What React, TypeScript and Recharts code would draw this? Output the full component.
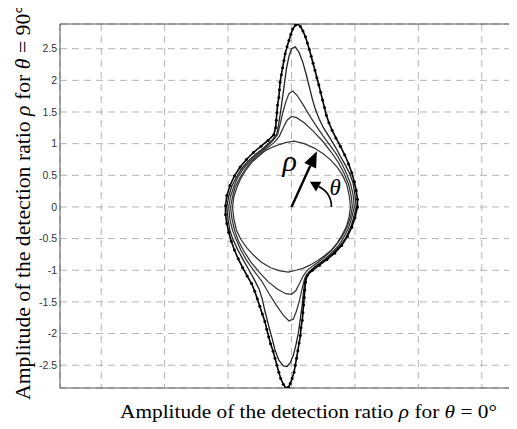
import React from 'react'
import {
  CartesianGrid,
  ReferenceLine,
  Scatter,
  ScatterChart,
  XAxis,
  YAxis,
} from 'recharts'

type Pt = [number, number]

const xTicks = [-3, -2, -1, 0, 1, 2, 3]
const yTicks = [-2.5, -2, -1.5, -1, -0.5, 0, 0.5, 1, 1.5, 2, 2.5]
const xRange: [number, number] = [-3.65, 3.65]
const yRange: [number, number] = [-2.86, 2.89]

// outermost curve (line + markers), peak 2.89
const curveA: Pt[] = [
  [1.04, 0], [1.04, 0.12], [1.02, 0.26], [0.99, 0.4], [0.95, 0.54], [0.9, 0.68],
  [0.84, 0.82], [0.77, 0.96], [0.7, 1.09], [0.64, 1.21], [0.59, 1.33], [0.55, 1.45],
  [0.52, 1.57], [0.49, 1.69], [0.46, 1.81], [0.43, 1.93], [0.4, 2.04], [0.37, 2.16],
  [0.34, 2.27], [0.31, 2.38], [0.28, 2.49], [0.25, 2.59], [0.22, 2.69], [0.18, 2.78],
  [0.14, 2.85], [0.1, 2.89], [0.06, 2.87], [0.02, 2.81], [-0.01, 2.73], [-0.04, 2.63],
  [-0.07, 2.53], [-0.1, 2.42], [-0.12, 2.31], [-0.14, 2.2], [-0.16, 2.09], [-0.18, 1.97],
  [-0.19, 1.85], [-0.2, 1.73], [-0.22, 1.61], [-0.23, 1.49], [-0.24, 1.37], [-0.25, 1.25],
  [-0.28, 1.14], [-0.37, 1.05], [-0.48, 0.96], [-0.6, 0.86], [-0.71, 0.75], [-0.81, 0.63],
  [-0.9, 0.49], [-0.97, 0.34], [-1.02, 0.18], [-1.04, 0.02],
  [-1.04, -0.12], [-1.02, -0.26], [-0.99, -0.4], [-0.95, -0.54], [-0.9, -0.68],
  [-0.84, -0.82], [-0.77, -0.96], [-0.7, -1.09], [-0.63, -1.21], [-0.58, -1.33],
  [-0.54, -1.45], [-0.5, -1.57], [-0.46, -1.69], [-0.42, -1.81], [-0.39, -1.93],
  [-0.36, -2.05], [-0.33, -2.16], [-0.29, -2.28], [-0.26, -2.39], [-0.23, -2.5],
  [-0.2, -2.61], [-0.17, -2.71], [-0.13, -2.8], [-0.09, -2.86], [-0.05, -2.85],
  [-0.02, -2.79], [0.01, -2.71], [0.04, -2.61], [0.06, -2.5], [0.08, -2.39], [0.1, -2.27],
  [0.12, -2.15], [0.14, -2.03], [0.15, -1.91], [0.17, -1.79], [0.18, -1.67], [0.19, -1.55],
  [0.2, -1.43], [0.21, -1.31], [0.22, -1.19], [0.25, -1.08], [0.33, -1.0], [0.44, -0.92],
  [0.56, -0.83], [0.68, -0.73], [0.79, -0.61], [0.88, -0.47], [0.95, -0.32], [1.0, -0.17],
  [1.04, 0],
]

// peak 2.53
const curveB: Pt[] = [
  [1.02, 0], [1.0, 0.2], [0.97, 0.38], [0.92, 0.52], [0.85, 0.66], [0.77, 0.8],
  [0.69, 0.95], [0.6, 1.1], [0.51, 1.24], [0.44, 1.38], [0.38, 1.53], [0.33, 1.7],
  [0.28, 1.9], [0.23, 2.1], [0.18, 2.28], [0.12, 2.44], [0.06, 2.53], [0.0, 2.5],
  [-0.04, 2.38], [-0.08, 2.18], [-0.11, 1.96], [-0.14, 1.74], [-0.17, 1.52], [-0.2, 1.32],
  [-0.23, 1.16], [-0.3, 1.06], [-0.44, 0.93], [-0.57, 0.83], [-0.69, 0.72], [-0.79, 0.6],
  [-0.87, 0.47], [-0.94, 0.33], [-0.99, 0.17], [-1.02, 0],
  [-1.0, -0.2], [-0.97, -0.38], [-0.92, -0.52], [-0.85, -0.67], [-0.77, -0.82],
  [-0.68, -0.98], [-0.59, -1.14], [-0.51, -1.3], [-0.46, -1.46], [-0.42, -1.64],
  [-0.37, -1.84], [-0.31, -2.06], [-0.26, -2.26], [-0.2, -2.42], [-0.13, -2.51],
  [-0.07, -2.52], [-0.02, -2.46], [0.03, -2.34], [0.07, -2.18], [0.11, -1.98],
  [0.14, -1.76], [0.17, -1.54], [0.19, -1.34], [0.21, -1.16], [0.27, -1.04], [0.39, -0.93],
  [0.52, -0.84], [0.65, -0.73], [0.77, -0.61], [0.86, -0.48], [0.93, -0.33], [0.98, -0.17],
  [1.02, 0],
]

// peak 1.83
const curveC: Pt[] = [
  [0.99, 0], [0.97, 0.2], [0.93, 0.37], [0.87, 0.52], [0.8, 0.67], [0.71, 0.83],
  [0.61, 0.97], [0.5, 1.12], [0.39, 1.28], [0.28, 1.45], [0.18, 1.62], [0.09, 1.76],
  [0.02, 1.83], [-0.04, 1.79], [-0.09, 1.66], [-0.14, 1.48], [-0.18, 1.3], [-0.22, 1.14],
  [-0.3, 1.04], [-0.43, 0.92], [-0.55, 0.82], [-0.67, 0.71], [-0.77, 0.59], [-0.85, 0.46],
  [-0.91, 0.32], [-0.96, 0.17], [-0.99, 0],
  [-0.97, -0.2], [-0.93, -0.37], [-0.87, -0.52], [-0.8, -0.68], [-0.71, -0.84],
  [-0.6, -1.0], [-0.47, -1.17], [-0.36, -1.36], [-0.24, -1.55], [-0.13, -1.71],
  [-0.04, -1.8], [0.03, -1.77], [0.08, -1.64], [0.13, -1.46], [0.17, -1.28], [0.21, -1.12],
  [0.28, -1.02], [0.4, -0.92], [0.52, -0.83], [0.64, -0.72], [0.75, -0.6], [0.83, -0.47],
  [0.9, -0.33], [0.95, -0.17], [0.99, 0],
]

// peak 1.43
const curveD: Pt[] = [
  [0.96, 0], [0.94, 0.18], [0.9, 0.36], [0.83, 0.53], [0.74, 0.7], [0.63, 0.86],
  [0.5, 1.03], [0.35, 1.19], [0.2, 1.33], [0.08, 1.41], [0.0, 1.43], [-0.07, 1.37],
  [-0.13, 1.25], [-0.19, 1.12], [-0.27, 1.02], [-0.41, 0.91], [-0.53, 0.81], [-0.65, 0.7],
  [-0.74, 0.58], [-0.82, 0.45], [-0.89, 0.31], [-0.93, 0.16], [-0.96, 0],
  [-0.94, -0.18], [-0.9, -0.36], [-0.84, -0.53], [-0.75, -0.7], [-0.64, -0.87],
  [-0.51, -1.03], [-0.37, -1.18], [-0.22, -1.3], [-0.09, -1.37], [0.0, -1.38],
  [0.07, -1.32], [0.13, -1.2], [0.19, -1.08], [0.26, -0.99], [0.38, -0.9], [0.5, -0.81],
  [0.62, -0.7], [0.72, -0.58], [0.81, -0.45], [0.88, -0.31], [0.93, -0.16], [0.96, 0],
]

// innermost, peak 1.05
const curveE: Pt[] = [
  [0.93, 0], [0.91, 0.18], [0.87, 0.36], [0.8, 0.51], [0.72, 0.63], [0.62, 0.74],
  [0.5, 0.84], [0.36, 0.93], [0.2, 1.0], [0.04, 1.04], [-0.08, 1.02], [-0.18, 0.99],
  [-0.29, 0.95], [-0.41, 0.89], [-0.52, 0.8], [-0.63, 0.7], [-0.72, 0.58], [-0.8, 0.45],
  [-0.86, 0.31], [-0.91, 0.16], [-0.93, 0],
  [-0.91, -0.18], [-0.87, -0.36], [-0.8, -0.51], [-0.71, -0.64], [-0.6, -0.76],
  [-0.48, -0.87], [-0.33, -0.96], [-0.18, -1.01], [-0.05, -1.03], [0.07, -1.0],
  [0.18, -0.97], [0.29, -0.92], [0.41, -0.85], [0.52, -0.77], [0.63, -0.68], [0.72, -0.57],
  [0.8, -0.44], [0.87, -0.3], [0.91, -0.15], [0.93, 0],
]

const toRows = (pts: Pt[]) => pts.map(([x, y]) => ({ x, y }))

const NoDot = () => <g />
const NoTick = () => <g />
const Marker = (p: any) => <circle cx={p.cx} cy={p.cy} r={1.5} fill="#000" />

const serif = '"Liberation Serif", "Times New Roman", serif'

// arrow for rho, drawn from the segment end points
const RhoArrow = (p: any) => {
  const { x1, y1, x2, y2 } = p
  const dx = x2 - x1
  const dy = y2 - y1
  const len = Math.hypot(dx, dy)
  const ux = dx / len
  const uy = dy / len
  const hl = 16
  const hw = 6.5
  const bx = x2 - ux * hl
  const by = y2 - uy * hl
  return (
    <g>
      <line x1={x1} y1={y1} x2={bx} y2={by} stroke="#000" strokeWidth={2.4} />
      <polygon
        points={`${x2},${y2} ${bx - uy * hw},${by + ux * hw} ${bx + uy * hw},${by - ux * hw}`}
        fill="#000"
      />
      <text x={x1 - 9} y={y1 - 36} fontFamily={serif} fontStyle="italic" fontSize={30} fill="#000">
        ρ
      </text>
    </g>
  )
}

// curved arrow for theta
const ThetaArrow = (p: any) => {
  const { x1, y1, x2 } = p
  const r = x2 - x1
  const tip = [x1 + 0.46 * r, y1 - 0.63 * r]
  const base = [x1 + 0.68 * r, y1 - 0.51 * r]
  const dx = tip[0] - base[0]
  const dy = tip[1] - base[1]
  const len = Math.hypot(dx, dy)
  const hw = 5.5
  const px = (-dy / len) * hw
  const py = (dx / len) * hw
  return (
    <g>
      <path
        d={`M ${x1 + r} ${y1} Q ${x1 + r} ${y1 - 0.35 * r} ${base[0]} ${base[1]}`}
        fill="none"
        stroke="#000"
        strokeWidth={1.7}
      />
      <polygon
        points={`${tip[0]},${tip[1]} ${base[0] + px},${base[1] + py} ${base[0] - px},${base[1] - py}`}
        fill="#000"
      />
      <text x={x1 + 38} y={y1 - 12} fontFamily={serif} fontStyle="italic" fontSize={23} fill="#000">
        θ
      </text>
    </g>
  )
}

export default function App() {
  return (
    <div style={{ position: 'relative', width: 509, height: 421, overflow: 'hidden' }}>
      <ScatterChart
        width={530}
        height={413}
        margin={{ top: 16, right: 15, bottom: 0, left: 0 }}
      >
        <CartesianGrid stroke="#b4b4b4" strokeDasharray="7 5" />
        <XAxis
          type="number"
          dataKey="x"
          domain={xRange}
          ticks={xTicks}
          interval={0}
          allowDataOverflow
          tick={NoTick}
          tickLine={false}
          height={33}
          axisLine={{ stroke: '#555' }}
        />
        <YAxis
          type="number"
          dataKey="y"
          domain={yRange}
          ticks={yTicks}
          interval={0}
          allowDataOverflow
          width={52}
          tickLine={false}
          tickSize={0}
          tickMargin={3}
          axisLine={{ stroke: '#555' }}
          tick={{ fill: '#333', fontSize: 10.5, fontFamily: '"Liberation Sans", Arial, sans-serif' }}
        />
        <ReferenceLine y={yRange[1]} stroke="#555" />
        <Scatter data={toRows(curveE)} line={{ stroke: '#333', strokeWidth: 1.25 }} shape={NoDot} isAnimationActive={false} />
        <Scatter data={toRows(curveD)} line={{ stroke: '#333', strokeWidth: 1.25 }} shape={NoDot} isAnimationActive={false} />
        <Scatter data={toRows(curveC)} line={{ stroke: '#333', strokeWidth: 1.25 }} shape={NoDot} isAnimationActive={false} />
        <Scatter data={toRows(curveB)} line={{ stroke: '#222', strokeWidth: 1.3 }} shape={NoDot} isAnimationActive={false} />
        <Scatter data={toRows(curveA)} line={{ stroke: '#000', strokeWidth: 1.6 }} shape={Marker} isAnimationActive={false} />
        <ReferenceLine segment={[{ x: 0, y: 0 }, { x: 0.4, y: 0.88 }]} shape={RhoArrow} />
        <ReferenceLine segment={[{ x: 0, y: 0 }, { x: 0.63, y: 0 }]} shape={ThetaArrow} />
      </ScatterChart>
      <svg
        width={509}
        height={421}
        style={{ position: 'absolute', left: 0, top: 0, pointerEvents: 'none' }}
      >
        <text
          x={300.5}
          y={410}
          textAnchor="middle"
          textLength={377}
          lengthAdjust="spacingAndGlyphs"
          fontFamily={serif}
          fontSize={19}
          fill="#000"
        >
          Amplitude of the detection ratio <tspan fontStyle="italic">ρ</tspan> for{' '}
          <tspan fontStyle="italic">θ</tspan> = 0°
        </text>
        <text
          transform="translate(22, 194.5) rotate(-90)"
          textAnchor="middle"
          textLength={395}
          lengthAdjust="spacingAndGlyphs"
          fontFamily={serif}
          fontSize={21}
          fill="#000"
        >
          Amplitude of the detection ratio <tspan fontStyle="italic">ρ</tspan> for{' '}
          <tspan fontStyle="italic">θ</tspan> = 90°
        </text>
      </svg>
    </div>
  )
}
